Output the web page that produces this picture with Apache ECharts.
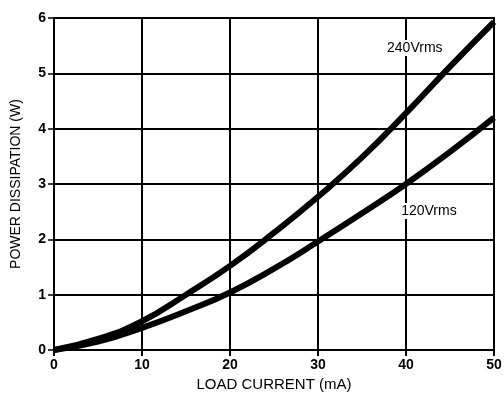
<!DOCTYPE html>
<html><head><meta charset="utf-8">
<script src="https://cdn.jsdelivr.net/npm/echarts@6/dist/echarts.min.js"></script>
<style>html,body{margin:0;padding:0;background:#fff}#c{width:504px;height:394px}</style>
</head><body><div id="c"></div>
<script>
const current = [0, 5, 10, 15, 20, 25, 30, 35, 40, 45, 50];
const p240 = [0, 0.2, 0.52, 1.0, 1.52, 2.12, 2.77, 3.48, 4.28, 5.12, 5.93];
const p120 = [0, 0.15, 0.4, 0.7, 1.04, 1.47, 1.96, 2.47, 3.0, 3.58, 4.2];
const labels = ['240Vrms', '120Vrms'];
const xName = 'LOAD CURRENT (mA)';
const yName = 'POWER DISSIPATION (W)';

const font = 'Liberation Sans, Arial, Helvetica, sans-serif';
const chart = echarts.init(document.getElementById('c'));
const pairs = a => current.map((x, i) => [x, a[i]]);
const lbl = t => ({show: true, formatter: t, color: '#000', fontFamily: font, fontSize: 14, backgroundColor: '#fff', padding: [1, 2]});
chart.setOption({
  animation: false,
  backgroundColor: '#fff',
  grid: {left: 54, right: 10, top: 18, bottom: 44, show: true, borderColor: '#000', borderWidth: 2,
         containLabel: false, outerBoundsMode: 'none'},
  xAxis: {
    type: 'value', min: 0, max: 50, interval: 10,
    name: xName, nameLocation: 'middle', nameGap: 26,
    nameTextStyle: {color: '#000', fontFamily: font, fontSize: 15},
    axisLine: {lineStyle: {color: '#000', width: 2}},
    axisTick: {show: true, length: 6, lineStyle: {color: '#000', width: 2}},
    axisLabel: {color: '#000', fontFamily: font, fontSize: 14, fontWeight: 'bold', margin: 8},
    splitLine: {show: true, lineStyle: {color: '#000', width: 2}}
  },
  yAxis: {
    type: 'value', min: 0, max: 6, interval: 1,
    name: yName, nameLocation: 'middle', nameGap: 31, nameRotate: 90,
    nameTextStyle: {color: '#000', fontFamily: font, fontSize: 14},
    axisLine: {lineStyle: {color: '#000', width: 2}},
    axisTick: {show: true, length: 6, lineStyle: {color: '#000', width: 1.5}},
    axisLabel: {color: '#000', fontFamily: font, fontSize: 14, fontWeight: 'bold', margin: 8},
    splitLine: {show: true, lineStyle: {color: '#000', width: 2}}
  },
  series: [
    {type: 'line', data: pairs(p240), smooth: true, showSymbol: false,
     lineStyle: {color: '#000', width: 6},
     markPoint: {symbol: 'rect', symbolSize: 0, data: [{coord: [41.0, 5.46], label: lbl(labels[0])}]}},
    {type: 'line', data: pairs(p120), smooth: true, showSymbol: false,
     lineStyle: {color: '#000', width: 6},
     markPoint: {symbol: 'rect', symbolSize: 0, data: [{coord: [42.6, 2.51], label: lbl(labels[1])}]}}
  ]
});
</script></body></html>
